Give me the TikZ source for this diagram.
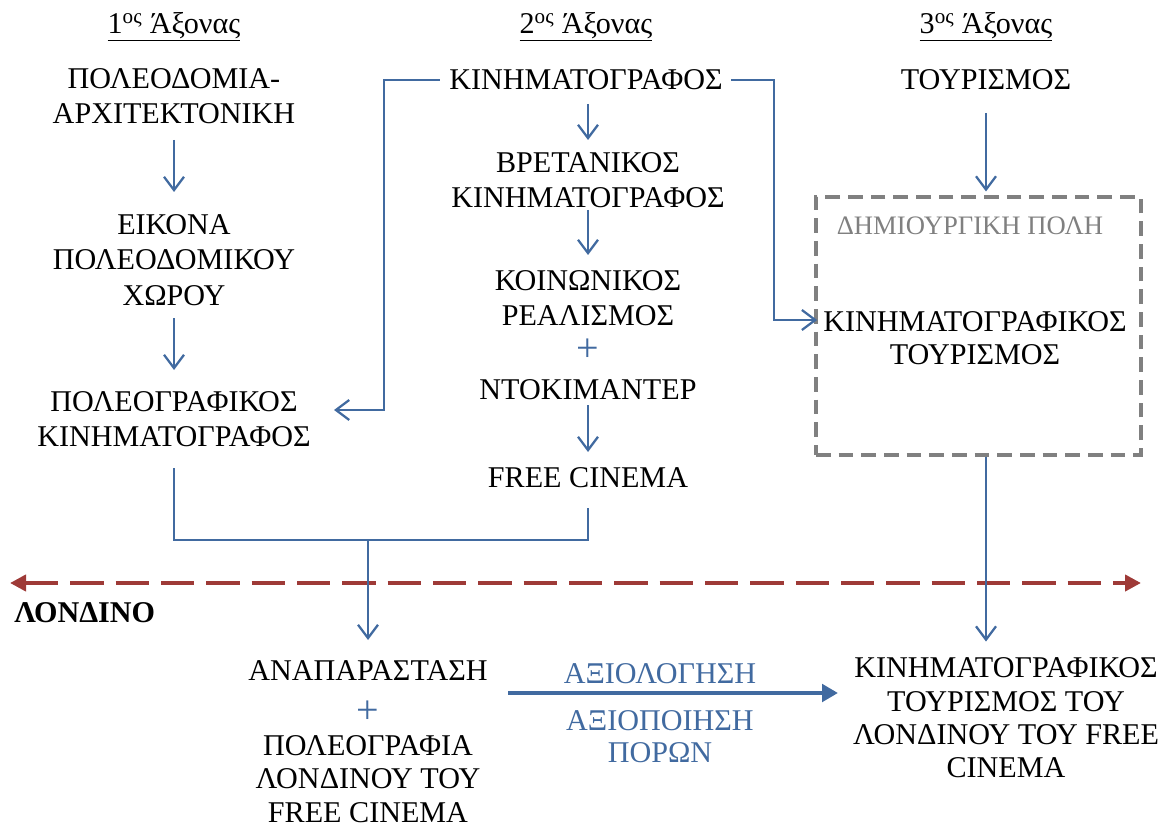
\documentclass[tikz,border=0pt]{standalone}
\usepackage{fontspec}
\setmainfont{Liberation Serif}
\usetikzlibrary{arrows.meta,calc}
\definecolor{cblue}{RGB}{65,106,160}
\definecolor{cred}{RGB}{158,58,55}
\definecolor{cgrey}{RGB}{128,128,128}
\begin{document}
\begin{tikzpicture}[x=0.75pt,y=-0.75pt,
  txt/.style={align=center,inner sep=0pt,font=\fontsize{22.6}{26.5}\selectfont},
  btxt/.style={txt,text=cblue},
  plus/.style={txt,text=cblue,font=\fontsize{30}{30}\selectfont},
  arr/.style={draw=cblue,line width=1.7pt,-{Straight Barb[length=10pt,width=15pt,line width=1.7pt]}},
  ln/.style={draw=cblue,line width=1.3pt},
  thick arr/.style={draw=cblue,line width=3pt,-{Triangle[length=12pt,width=13pt]}},
  redline/.style={draw=cred,line width=3pt,dash pattern=on 25pt off 9pt,{Triangle[length=12pt,width=12pt]}-{Triangle[length=12pt,width=12pt]}},
  greybox/.style={draw=cgrey,line width=2.3pt,dash pattern=on 11pt off 6pt,inner sep=0pt}]
\useasboundingbox (0,0) rectangle (1163,827);

% headers
\node[txt] (h1) at (174,27) {\underline{1\textsuperscript{ος} Άξονας}};
\node[txt] (h2) at (586,27) {\underline{2\textsuperscript{ος} Άξονας}};
\node[txt] (h3) at (986,27) {\underline{3\textsuperscript{ος} Άξονας}};

% axis 1
\node[txt] (a1) at (174,96) {ΠΟΛΕΟΔΟΜΙΑ-\\ΑΡΧΙΤΕΚΤΟΝΙΚΗ};
\node[txt] (eik) at (174,260) {ΕΙΚΟΝΑ\\ΠΟΛΕΟΔΟΜΙΚΟΥ\\ΧΩΡΟΥ};
\node[txt] (pk) at (174,419) {ΠΟΛΕΟΓΡΑΦΙΚΟΣ\\ΚΙΝΗΜΑΤΟΓΡΑΦΟΣ};
\draw[arr] ($(a1)+(0,44)$) -- ($(eik)+(0,-68)$);
\draw[arr] ($(eik)+(0,58)$) -- ($(pk)+(0,-49)$);

% axis 2
\node[txt] (k) at (586,80) {ΚΙΝΗΜΑΤΟΓΡΑΦΟΣ};
\node[txt] (br) at (588,180) {ΒΡΕΤΑΝΙΚΟΣ\\ΚΙΝΗΜΑΤΟΓΡΑΦΟΣ};
\node[txt] (ko) at (588,298) {ΚΟΙΝΩΝΙΚΟΣ\\ΡΕΑΛΙΣΜΟΣ};
\node[plus] (plus1) at (588,350) {+};
\node[txt] (nt) at (588,390) {ΝΤΟΚΙΜΑΝΤΕΡ};
\node[txt] (fc) at (588,478) {FREE CINEMA};
\draw[arr] ($(k)+(2,24)$) -- ($(br)+(0,-40)$);
\draw[arr] ($(br)+(0,30)$) -- ($(ko)+(0,-43)$);
\draw[arr] ($(nt)+(0,15)$) -- ($(fc)+(0,-26)$);

% axis 3
\node[txt] (tour) at (986,80) {ΤΟΥΡΙΣΜΟΣ};
\node[greybox,minimum width=243.75pt,minimum height=193.5pt] (box) at (978.5,326) {};
\node[txt,text=cgrey,font=\fontsize{20}{24}\selectfont] (dp) at (970,226) {ΔΗΜΙΟΥΡΓΙΚΗ ΠΟΛΗ};
\node[txt,font=\fontsize{22.6}{25}\selectfont] (kt) at (975,338) {ΚΙΝΗΜΑΤΟΓΡΑΦΙΚΟΣ\\ΤΟΥΡΙΣΜΟΣ};
\draw[arr] ($(tour)+(0,33)$) -- ($(box.north)+(7.5,-4)$);

% side connectors
\draw[arr] ($(k.west)+(-9,0)$) -| ($(pk.east)+(73,-9)$) -- ($(pk.east)+(23,-9)$);
\draw[arr] ($(k.east)+(8,0)$) -| ($(kt.west)+(-49,-18)$) -- ($(kt.west)+(-6,-18)$);

% London line
\coordinate (lonL) at (10,583);
\coordinate (lonR) at (1141,583);
\draw[redline] (lonL) -- (lonR);
\node[txt,font=\fontsize{22.6}{26}\selectfont\bfseries,anchor=west] (lon) at (14,613) {ΛΟΝΔΙΝΟ};

% bottom
\node[txt] (ana) at (368,671) {ΑΝΑΠΑΡΑΣΤΑΣΗ};
\node[plus] (plus2) at (368,712) {+};
\node[txt,font=\fontsize{22.6}{25}\selectfont] (pol) at (368,779) {ΠΟΛΕΟΓΡΑΦΙΑ\\ΛΟΝΔΙΝΟΥ ΤΟΥ\\FREE CINEMA};
\node[txt,font=\fontsize{22.6}{25}\selectfont] (ktl) at (1006,718) {ΚΙΝΗΜΑΤΟΓΡΑΦΙΚΟΣ\\ΤΟΥΡΙΣΜΟΣ ΤΟΥ\\ΛΟΝΔΙΝΟΥ ΤΟΥ FREE\\CINEMA};

% join
\coordinate (m) at (368,540);
\draw[ln] ($(pk)+(0,49)$) |- (m) -| ($(fc)+(0,30)$);
\draw[arr] (m) -- ($(ana)+(0,-31)$);
\draw[arr] ($(box.south)+(7.5,0)$) -- ($(box.south)+(7.5,185)$);

% evaluation arrow
\coordinate (tA) at (508,693);
\coordinate (tB) at (838,693);
\draw[thick arr] (tA) -- (tB);
\node[btxt] (axl) at (660,674) {ΑΞΙΟΛΟΓΗΣΗ};
\node[btxt,font=\fontsize{22.6}{24}\selectfont] (axp) at (660,737) {ΑΞΙΟΠΟΙΗΣΗ\\ΠΟΡΩΝ};
\end{tikzpicture}
\end{document}
